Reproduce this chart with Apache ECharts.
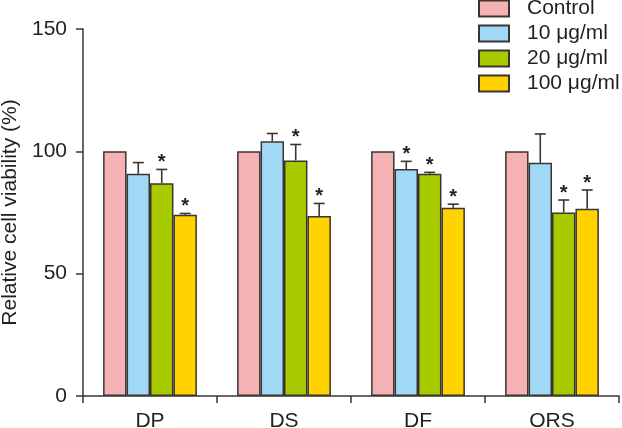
<!DOCTYPE html>
<html>
<head>
<meta charset="utf-8">
<script src="https://cdn.jsdelivr.net/npm/echarts@6/dist/echarts.min.js"></script>
<style>html,body{margin:0;padding:0;background:#fff}#c{width:622px;height:428px}</style>
</head>
<body>
<div id="c"></div>
<script>
var categories = ['DP', 'DS', 'DF', 'ORS'];
var seriesNames = ['Control', '10 μg/ml', '20 μg/ml', '100 μg/ml'];
var control = [100, 100, 100, 100];
var dose10 = [90.8, 104.1, 92.8, 95.3];
var dose20 = [87.0, 96.3, 90.8, 75.0];
var dose100 = [74.1, 73.6, 76.9, 76.5];
var errControl = [0, 0, 0, 0];
var err10 = [4.6, 3.2, 3.1, 11.8];
var err20 = [5.6, 6.5, 0.6, 5.1];
var err100 = [0.5, 5.1, 1.5, 7.7];
var sigControl = [0, 0, 0, 0];
var sig10 = [0, 0, 1, 0];
var sig20 = [1, 1, 1, 1];
var sig100 = [1, 1, 1, 1];
var yTicks = [0, 50, 100, 150];

var colors = ['#f4b2b5', '#a0d8f5', '#a8cb00', '#ffd200'];
var values = [control, dose10, dose20, dose100];
var errs = [errControl, err10, err20, err100];
var sigs = [sigControl, sig10, sig20, sig100];
var edge = '#3a3434';
var font = '"Liberation Sans", Arial, Helvetica, sans-serif';
var catGap = 0.3;

var chart = echarts.init(document.getElementById('c'), null, {renderer: 'canvas'});
var series = [];
values.forEach(function (v, i) {
  series.push({
    name: seriesNames[i],
    type: 'bar',
    data: v,
    barGap: '0%',
    barCategoryGap: (catGap * 100) + '%',
    itemStyle: {color: colors[i], borderColor: edge, borderWidth: 1.5},
    emphasis: {disabled: true},
    z: 2
  });
});
values.forEach(function (v, i) {
  var data = v.map(function (val, j) { return [j, val, errs[i][j], sigs[i][j]]; });
  series.push({
    type: 'custom',
    data: data,
    z: 5,
    silent: true,
    renderItem: function (params, api) {
      var j = api.value(0), val = api.value(1), e = api.value(2), s = api.value(3);
      var center = api.coord([j, 0]);
      var band = api.size([1, 0])[0];
      var bw = band * (1 - catGap) / 4;
      var x = center[0] - band * (1 - catGap) / 2 + bw * (i + 0.5);
      var yTop = api.coord([j, val])[1];
      var yErr = api.coord([j, val + e])[1];
      var children = [];
      if (e > 0) {
        children.push({type: 'line', shape: {x1: x, y1: yTop, x2: x, y2: yErr}, style: {stroke: edge, lineWidth: 1.6}});
        children.push({type: 'line', shape: {x1: x - 5.5, y1: yErr, x2: x + 5.5, y2: yErr}, style: {stroke: edge, lineWidth: 1.6}});
      }
      if (s) {
        children.push({type: 'text', x: x, y: yErr + 3, style: {text: '*', fill: '#231f20', font: 'bold 20px ' + font, align: 'center', verticalAlign: 'bottom'}});
      }
      return {type: 'group', children: children};
    }
  });
});

chart.setOption({
  animation: false,
  backgroundColor: '#fff',
  grid: {left: 83, right: 3, top: 29, bottom: 32, containLabel: false, outerBoundsMode: 'none'},
  legend: {
    data: seriesNames,
    orient: 'vertical',
    left: 478,
    top: -2,
    padding: 0,
    itemWidth: 30,
    itemHeight: 16,
    itemGap: 4,
    icon: 'rect',
    selectedMode: false,
    textStyle: {fontFamily: font, fontSize: 21, color: '#231f20', padding: [0, 0, 0, 13]}
  },
  xAxis: {
    type: 'category',
    data: categories,
    axisLine: {lineStyle: {color: edge, width: 1.5}},
    axisTick: {show: true, length: 7, lineStyle: {color: edge, width: 1.5}},
    axisLabel: {fontFamily: font, fontSize: 21, color: '#231f20', margin: 15}
  },
  yAxis: {
    type: 'value',
    min: 0,
    max: 150,
    interval: 50,
    name: 'Relative cell viability (%)',
    nameLocation: 'middle',
    nameGap: 57,
    nameTextStyle: {fontFamily: font, fontSize: 21, color: '#231f20'},
    axisLine: {show: true, lineStyle: {color: edge, width: 1.5}},
    axisTick: {show: true, length: 7, lineStyle: {color: edge, width: 1.5}},
    splitLine: {show: false},
    axisLabel: {fontFamily: font, fontSize: 21, color: '#231f20', margin: 16,
      formatter: function (v) { return yTicks.indexOf(v) >= 0 ? String(v) : ''; }}
  },
  series: series
});
</script>
</body>
</html>
